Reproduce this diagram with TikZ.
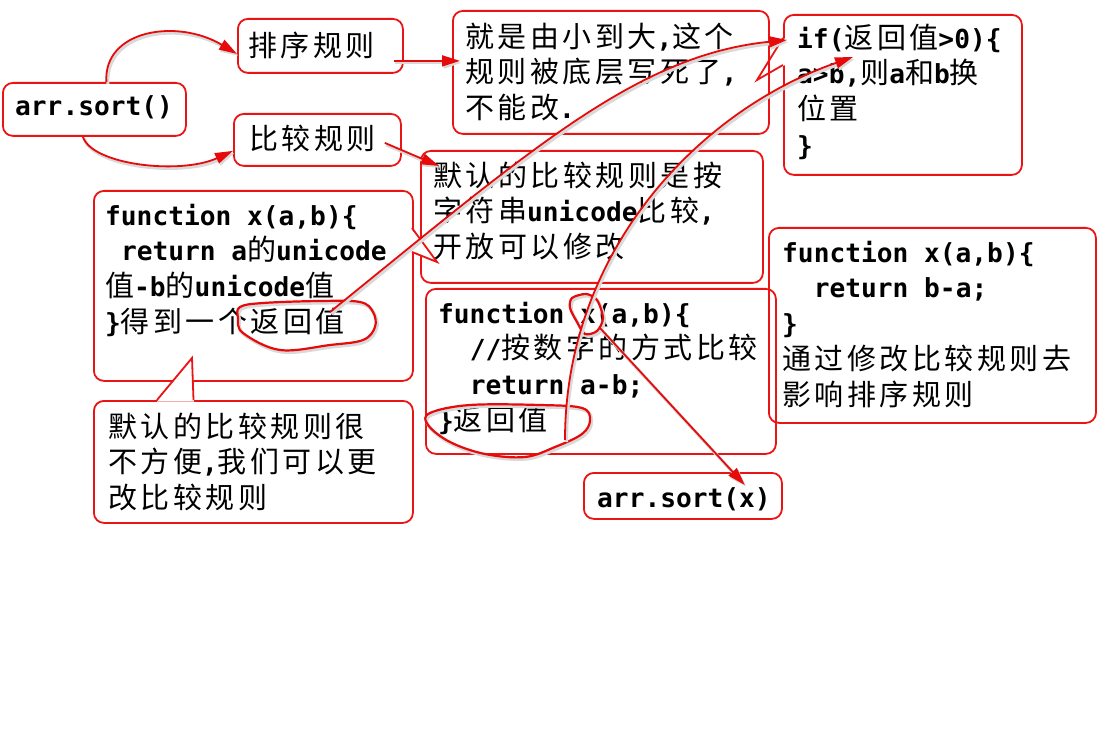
\documentclass[tikz,border=0pt]{standalone}
\usepackage{fontspec}
\setmonofont{DejaVu Sans Mono}
\newfontfamily\cjkfam[LetterSpace=12]{Noto Sans CJK SC}
\usetikzlibrary{arrows.meta}
\definecolor{boxred}{RGB}{235,20,20}
\definecolor{linered}{RGB}{230,10,10}
\newcommand\cj[1]{{\mdseries\fontsize{29}{35.75}\cjkfam #1}}
\newcommand\fr{\rule{0pt}{26pt}}
\newcommand\ind[1]{\hspace*{#1pt}}
\begin{document}
\begin{tikzpicture}[x=1pt,y={(0pt,-1pt)},
  box/.style={draw=boxred,line width=1.8pt,rounded corners=10pt,inner sep=0pt,anchor=north west},
  tailline/.style={draw=boxred,line width=1.8pt,line join=miter},
  txt/.style={inner sep=0pt,anchor=north west,align=left,font=\ttfamily\bfseries\fontsize{26.2}{35.75}\selectfont},
  shade/.style={preaction={draw=black!15,line width=3.2pt,transform canvas={shift={(1.5pt,-2pt)}}}},
  conn/.style={shade,draw=linered,line width=1.8pt,-{Triangle[length=18pt,width=11pt]}},
  ring/.style={shade,draw=linered,line width=2.2pt}]
\fill[white] (0,0) rectangle (1112,738);
\useasboundingbox (0,0) rectangle (1112,738);

% boxes
\node[box,minimum width=183pt,minimum height=53pt] (s0) at (2,82) {};
\node[box,minimum width=165pt,minimum height=54pt] (r1) at (237,18) {};
\node[box,minimum width=167pt,minimum height=52pt] (r2) at (233,113) {};
\node[box,minimum width=238pt,minimum height=160pt] (bif) at (783,14) {};
\fill[white] (785,38) -- (757,80) -- (785,65) -- cycle;
\draw[tailline] (783,38) -- (757,80) -- (783,65);
\node[box,minimum width=316pt,minimum height=123pt] (b4) at (452,10) {};
\node[box,minimum width=342pt,minimum height=132pt] (b6) at (420,150) {};
\node[box,minimum width=319pt,minimum height=190pt] (b7) at (93,190) {};
\fill[white] (410.5,228) -- (437,262) -- (410.5,252) -- cycle;
\draw[tailline] (412,228) -- (437,262) -- (412,252);
\node[box,minimum width=350pt,minimum height=165pt] (b8) at (425,288) {};
\node[box,minimum width=327pt,minimum height=195pt] (b9) at (768,227) {};
\node[box,minimum width=198pt,minimum height=46pt] (s1) at (583,472) {};
\node[box,minimum width=319pt,minimum height=122pt] (b11) at (93,400) {};
\fill[white] (157,401.5) -- (192,358) -- (194,401.5) -- cycle;
\draw[tailline] (157,400) -- (192,358) -- (193.5,400);

% texts
\node[txt] (s0t) at (15,89) {\fr arr.sort()};
\node[txt] (r1t) at (248,30) {\fr\cj{排序规则}};
\node[txt] (r2t) at (249,123) {\fr\cj{比较规则}};
\node[txt] (b4t) at (465,21) {\fr\cj{就是由小到大},\cj{这个}\\ \cj{规则被底层写死了},\\ \cj{不能改}.};
\node[txt] (bift) at (797,22) {\fr if(\cj{返回值}>0)\{\\ a>b,\cj{则}a\cj{和}b\cj{换}\\ \cj{位置}\\ \}};
\node[txt] (b6t) at (433,160) {\fr\cj{默认的比较规则是按}\\ \cj{字符串}unicode\cj{比较},\\ \cj{开放可以修改}};
\node[txt] (b7t) at (105,199) {\fr function x(a,b)\{\\ \ind{15.8}return a\cj{的}unicode\\ \cj{值}-b\cj{的}unicode\cj{值}\\ \}\cj{得到一个返回值}};
\node[txt] (b8t) at (438,297) {\fr function x(a,b)\{\\ \ind{31.6}//\cj{按数字的方式比较}\\ \ind{31.6}return a-b;\\ \}\cj{返回值}};
\node[txt] (b9t) at (782,236) {\fr function x(a,b)\{\\ \ind{31.6}return b-a;\\ \}\\ \cj{通过修改比较规则去}\\ \cj{影响排序规则}};
\node[txt] (s1t) at (597,481) {\fr arr.sort(x)};
\node[txt] (b11t) at (108,411) {\fr\cj{默认的比较规则很}\\ \cj{不方便},\cj{我们可以更}\\ \cj{改比较规则}};

% hand-drawn rings
\draw[ring] plot[smooth cycle,tension=0.6] coordinates {(240,307) (263,303) (320,301) (360,302) (373,312) (375,327) (363,340) (330,345) (280,350) (243,333) (238,318)};
\draw[ring] plot[smooth cycle,tension=0.5] coordinates {(572,298) (586,294) (597,300) (603,318) (597,331) (585,334) (577,322) (570,308)};
\draw[ring] plot[smooth cycle,tension=0.6] coordinates {(430,413) (470,405) (540,405) (582,408) (590,420) (582,434) (555,447) (525,457) (485,454) (450,442) (428,425)};

% connector end points
\coordinate (e1) at (330,312);
\coordinate (e2) at (600,328);
\coordinate (e3) at (565,440);
\coordinate (ifa) at (787,40);
\coordinate (ifb) at (853,57);

% connectors
\draw[conn] ([xshift=12pt]s0.north) .. controls (103,30) and (177,18) .. ([yshift=-8pt]r1.west);
\draw[conn] ([xshift=-11.5pt]s0.south) .. controls (92,165) and (180,175) .. ([yshift=-11pt]r2.west);
\draw[conn] ([xshift=-10pt,yshift=-15pt]r1.east) -- ([xshift=8pt,yshift=11.5pt]b4.west);
\draw[conn] ([xshift=-17pt,yshift=-3pt]r2.east) -- ([xshift=19pt,yshift=-16pt]b6.north west);
\draw[conn] (e1) .. controls (530,150) and (637,55) .. (ifa);
\draw[conn] (e3) .. controls (565,250) and (700,110) .. (ifb);
\draw[conn] (e2) -- ([xshift=-38pt,yshift=-13pt]s1.north east);
\end{tikzpicture}
\end{document}
